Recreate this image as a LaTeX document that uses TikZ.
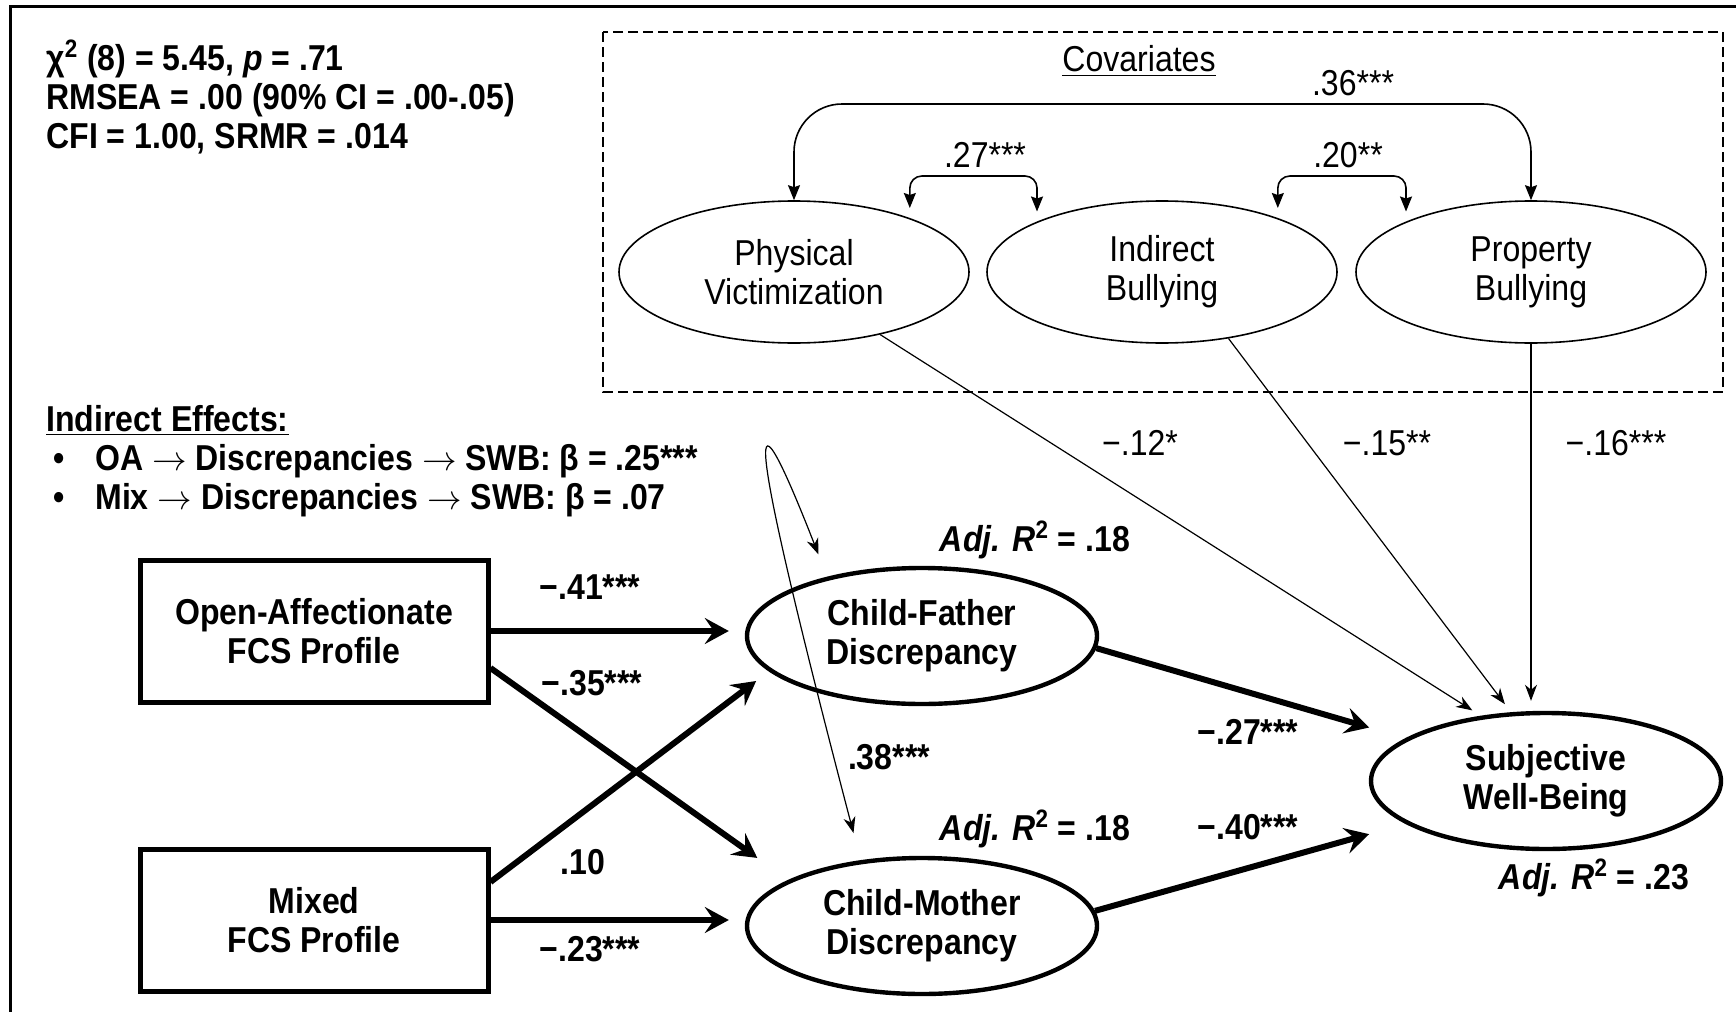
\documentclass[tikz,border=0pt]{standalone}
\usepackage{fontspec}
\setmainfont{Liberation Sans}[FakeStretch=0.89]
\usetikzlibrary{arrows.meta,calc,positioning,shapes.geometric}

\newcommand{\labfont}{\fontsize{18}{19.5}\selectfont}
\newcommand{\bul}{\makebox[24.5pt][l]{\hspace{3.5pt}•}}
\newcommand{\adjr}[1]{\textit{Adj. R}\textsuperscript{2} = #1}
\newcommand{\ar}{$\rightarrow$}

\begin{document}
\begin{tikzpicture}[x=0.5pt, y=-0.5pt, on grid,
    profile/.style={draw, line width=2.5pt, minimum width=174pt, minimum height=71pt, inner sep=0pt, align=center, font=\labfont\bfseries},
    discr/.style={ellipse, draw, line width=2.2pt, minimum width=175pt, minimum height=68pt, inner sep=0pt, align=center, font=\labfont\bfseries},
    covar/.style={ellipse, draw, line width=0.8pt, minimum width=175pt, minimum height=71pt, inner sep=0pt, align=center, font=\labfont},
    coef/.style={font=\labfont\bfseries},
    covcoef/.style={font=\labfont},
    bigarrow/.style={line width=3pt, -{Stealth[length=12pt, width=13pt, inset=4.5pt]}, shorten >=8pt},
    thinarrow/.style={line width=0.6pt, -{Stealth[length=8pt, width=6pt, inset=2.5pt]}, shorten >=5pt},
    covarrow/.style={line width=0.8pt, {Stealth[length=7.5pt, width=6pt, inset=1pt]}-{Stealth[length=7.5pt, width=6pt, inset=1pt]}},
    looparrow/.style={line width=0.6pt, {Stealth[length=8pt, width=6pt, inset=2.5pt]}-{Stealth[length=8pt, width=6pt, inset=2.5pt]}},
  ]
  \useasboundingbox (0,0) rectangle (1736,1012);
  \draw[line width=1.5pt] (10,1012) -- (10,6.5) -- (1736,6.5);
  \draw[line width=1pt, dash pattern=on 5pt off 2.5pt] (603,32) rectangle (1723,392);

  % fit and indirect effects
  \node[coef, align=left, anchor=north west, inner sep=0pt] (fit) at (46,40)
    {χ\textsuperscript{2} (8) = 5.45, \textit{p} = .71\\RMSEA = .00 (90\% CI = .00-.05)\\CFI = 1.00, SRMR = .014};
  \node[coef, align=left, anchor=north west, inner sep=0pt] (ind) at (46,405)
    {\underline{Indirect Effects:}\\\bul OA \ar{} Discrepancies \ar{} SWB: β = .25***\\\bul Mix \ar{} Discrepancies \ar{} SWB: β = .07};

  % covariates
  \node[covar] (pv) at (794,272) {Physical\\Victimization};
  \node[covar] (ib) [right=184pt of pv] {Indirect\\Bullying};
  \node[covar] (pb) [right=184.5pt of ib] {Property\\Bullying};
  \node[covcoef] (cov) at (1139,61) {\underline{Covariates}};
  \coordinate (top36) at (1163,104);
  \coordinate (top27) at (972,176);
  \coordinate (top20) at (1340,176);

  % model
  \node[profile] (oa) at (314,631) {Open-Affectionate\\FCS Profile};
  \node[profile] (mix) [below=144.5pt of oa] {Mixed\\FCS Profile};
  \node[discr] (cf) at (922,636) {Child-Father\\Discrepancy};
  \node[discr] (cm) [below=145pt of cf] {Child-Mother\\Discrepancy};
  \node[discr] (swb) at (1546,781) {Subjective\\Well-Being};

  \draw[covarrow, rounded corners=24pt] (pv.north) |- (top36) -| (pb.north);
  \draw[covarrow, rounded corners=6pt, shorten <=5pt, shorten >=5pt] (pv.25) |- (top27) -| (ib.158);
  \draw[covarrow, rounded corners=6pt, shorten <=5pt, shorten >=5pt] (ib.25) |- (top20) -| (pb.158);

  \draw[thinarrow] (pv.-36) -- (swb.135);
  \draw[thinarrow] (ib.-45) -- (swb.117);
  \draw[thinarrow] (pb.south) -- (pb.south |- swb.north);

  \draw[bigarrow] (oa.east) -- (oa.east -| cf.west);
  \draw[bigarrow, shorten >=19pt] ($(oa.east)+(0,37)$) -- (cm.161);
  \draw[bigarrow] ($(mix.east)+(0,-38)$) -- (cf.193);
  \draw[bigarrow] (mix.east) -- (mix.east -| cm.west);
  \draw[bigarrow, shorten >=19pt] (cf.-4) -- (swb.163);
  \draw[bigarrow, shorten >=19pt] (cm.5) -- (swb.197);
  \draw[looparrow, shorten <=12pt, shorten >=14pt] (cf.148) .. controls +(-88,-225) and +(-110,-420) .. (cm.133);

  % labels
  \node[covcoef] (c36) at (1353,83) {.36***};
  \node[covcoef] (c27) at (985,155) {.27***};
  \node[covcoef] (c20) at (1348,155) {.20**};
  \node[covcoef] (c12) at (1140,443) {−.12*};
  \node[covcoef] (c15) at (1387,443) {−.15**};
  \node[covcoef] (c16) at (1616,443) {−.16***};
  \node[coef] (b41) at (590,587) {−.41***};
  \node[coef] (b35) at (592,683) {−.35***};
  \node[coef] (b10) at (583,862) {.10};
  \node[coef] (b23) at (590,949) {−.23***};
  \node[coef] (b27) at (1248,732) {−.27***};
  \node[coef] (b40) at (1248,827) {−.40***};
  \node[coef] (b38) at (889,757) {.38***};
  \node[coef] (rcf) at (1035,540) {\adjr{.18}};
  \node[coef] (rcm) at (1035,829) {\adjr{.18}};
  \node[coef] (rswb) at (1594,878) {\adjr{.23}};
\end{tikzpicture}
\end{document}
